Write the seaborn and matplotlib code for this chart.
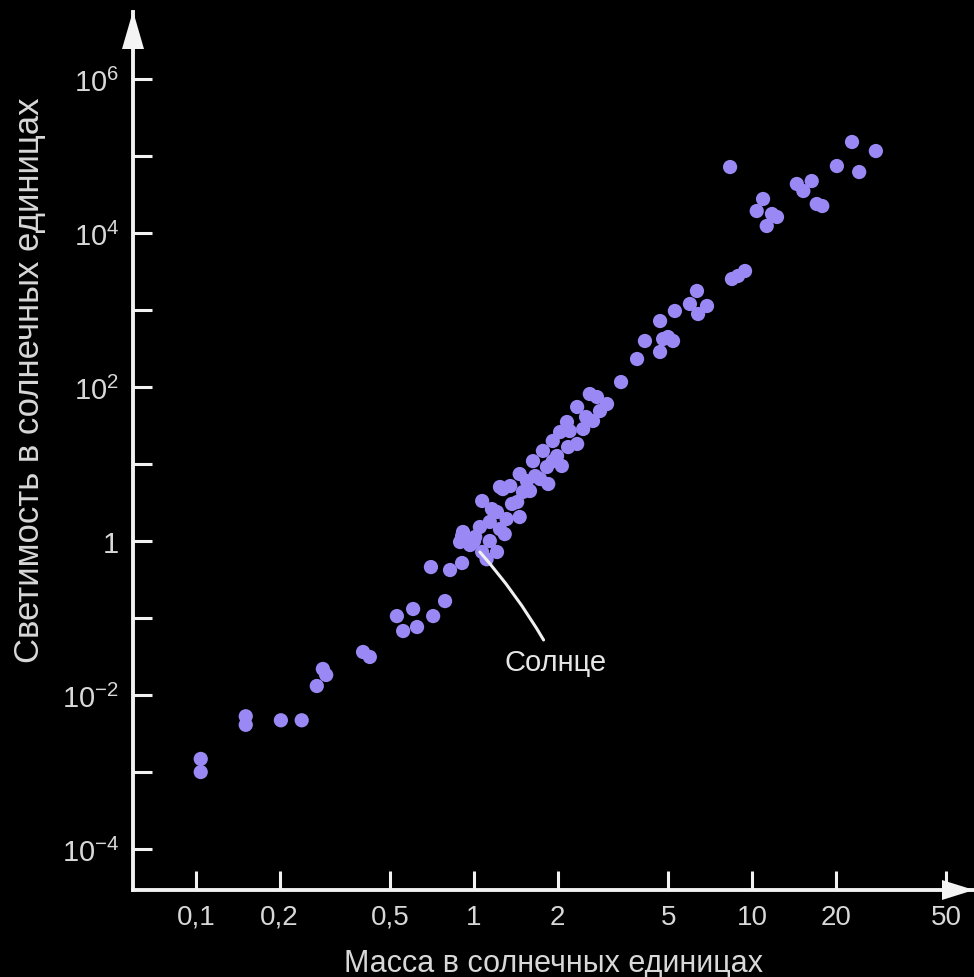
import matplotlib
matplotlib.use("Agg")
import numpy as np
import pandas as pd
import seaborn as sns
import matplotlib.pyplot as plt
from matplotlib import font_manager
from matplotlib.patches import Polygon
from matplotlib.transforms import IdentityTransform
from matplotlib.ticker import FixedLocator, FixedFormatter, NullLocator

# Mass (solar units) of each star
mass = [
    0.104, 0.104, 0.151, 0.151, 0.202, 0.240, 0.286, 0.294, 0.272, 0.399,
    0.422, 0.528, 0.604, 0.556, 0.624, 0.713, 0.787, 0.700, 0.820, 0.906,
    0.968, 0.906, 0.891, 0.984, 1.07, 1.21, 1.14, 0.913, 1.05, 1.24,
    1.14, 1.21, 1.31, 1.46, 1.07, 1.43, 1.24, 1.50, 1.46, 1.66,
    1.11, 1.00, 1.27, 1.35, 1.59, 1.73, 1.85, 1.63, 1.83, 2.07,
    1.77, 1.99, 2.35, 2.04, 2.16, 2.47, 2.35, 2.68, 2.84, 2.61,
    3.01, 3.38, 1.37, 1.55, 1.92, 2.18, 1.92, 2.53, 2.77, 2.21,
    1.16, 1.29, 1.01, 3.86, 4.12, 4.67, 4.99, 5.20, 4.67, 5.28,
    5.98, 6.40, 6.89, 6.34, 4.79, 8.47, 8.91, 9.44, 8.34, 10.96,
    10.4, 11.8, 12.3, 11.3, 14.5, 16.4, 15.3, 17.1, 17.9, 20.2,
    22.9, 27.9, 24.3,
]

# Luminosity (solar units) of each star
luminosity = [
    1.48e-3, 1.0e-3, 5.3e-3, 4.1e-3, 4.7e-3, 4.7e-3, 0.0218, 0.0182, 0.0131, 0.0362,
    0.0312, 0.106, 0.131, 0.0678, 0.0764, 0.106, 0.166, 0.459, 0.420, 0.518,
    0.887, 1.16, 0.97, 0.97, 0.72, 0.72, 1.0, 1.31, 1.52, 1.43,
    1.77, 2.38, 1.93, 2.05, 3.31, 3.21, 5.03, 4.33, 7.41, 6.98,
    0.58, 1.0, 4.73, 5.18, 4.46, 6.38, 5.50, 10.9, 9.14, 9.42,
    14.8, 12.7, 18.2, 26.0, 35.1, 28.5, 55.0, 36.2, 48.8, 81.1,
    60.1, 116.0, 3.03, 6.01, 10.9, 16.6, 19.9, 40.8, 74.1, 26.8,
    2.60, 1.23, 1.13, 231.0, 396.0, 285.0, 446.0, 396.0, 719.0, 971.0,
    1197.0, 887.0, 1127.0, 1766.0, 420.0, 2527.0, 2767.0, 3210.0, 71900.0, 27650.0,
    19300.0, 17650.0, 16140.0, 12330.0, 43300.0, 47300.0, 35100.0, 23800.0, 22400.0, 74100.0,
    152000.0, 116000.0, 61900.0,
]

x_ticks = [0.1, 0.2, 0.5, 1, 2, 5, 10, 20, 50]
x_tick_labels = ["0,1", "0,2", "0,5", "1", "2", "5", "10", "20", "50"]
y_ticks = [1e-4, 1e-3, 1e-2, 1e-1, 1, 1e1, 1e2, 1e3, 1e4, 1e5, 1e6]
y_tick_labels = [r"$10^{-4}$", "", r"$10^{-2}$", "", "1", "", r"$10^{2}$", "",
                 r"$10^{4}$", "", r"$10^{6}$"]

x_label = "Масса в солнечных единицах"
y_label = "Светимость в солнечных единицах"
sun_label = "Солнце"

df = pd.DataFrame({"mass": mass, "luminosity": luminosity})

sns.set_theme(style="white", rc={
    "figure.facecolor": "black",
    "axes.facecolor": "black",
    "savefig.facecolor": "black",
    "xtick.bottom": True,
    "ytick.left": True,
})
installed = {f.name for f in font_manager.fontManager.ttflist}
family = "Liberation Sans Narrow" if "Liberation Sans Narrow" in installed else "Liberation Sans"
plt.rcParams["font.family"] = [family, "DejaVu Sans"]
plt.rcParams["mathtext.fontset"] = "custom"
plt.rcParams["mathtext.rm"] = family
plt.rcParams["mathtext.it"] = family
plt.rcParams["mathtext.bf"] = family

W, H = 974, 978
fig = plt.figure(figsize=(W / 100, H / 100), dpi=100)
fig.patch.set_facecolor("black")

# plot frame in pixels: left, right, bottom, top
px_left, px_right, px_bottom, px_top = 133, 973, 891, 13
ax = fig.add_axes([px_left / W, (H - px_bottom) / H,
                   (px_right - px_left) / W, (px_bottom - px_top) / H])
ax.set_facecolor("black")

sns.scatterplot(data=df, x="mass", y="luminosity", ax=ax,
                color="#9a88f4", s=105, edgecolor="none", linewidth=0,
                zorder=3, legend=False)

ax.set_xscale("log")
ax.set_yscale("log")
ax.set_xlim(10 ** -1.2266, 10 ** 1.795)
ax.set_ylim(10 ** -4.532, 10 ** 6.870)

ax.xaxis.set_major_locator(FixedLocator(x_ticks))
ax.xaxis.set_major_formatter(FixedFormatter(x_tick_labels))
ax.yaxis.set_major_locator(FixedLocator(y_ticks))
ax.yaxis.set_major_formatter(FixedFormatter(y_tick_labels))
ax.xaxis.set_minor_locator(NullLocator())
ax.yaxis.set_minor_locator(NullLocator())

for side in ("top", "right"):
    ax.spines[side].set_visible(False)
for side in ("left", "bottom"):
    ax.spines[side].set_color("#f2f2f2")
    ax.spines[side].set_linewidth(2.8)

ax.tick_params(axis="both", which="major", direction="in", length=14,
               width=2.2, color="#f2f2f2", labelcolor="#d8d8d8",
               bottom=True, left=True)
ax.tick_params(axis="x", labelsize=20, pad=10)
ax.tick_params(axis="y", labelsize=21, pad=10)
ax.set_xlabel("")
ax.set_ylabel("")
ax.grid(False)

# Arrow heads at the ends of both axes (pixel coordinates)
def tri(points):
    return Polygon([(x, H - y) for x, y in points], closed=True,
                   transform=IdentityTransform(), facecolor="#f4f4f4",
                   edgecolor="none", zorder=5)

fig.add_artist(tri([(122, 50), (144, 50), (133, 12)]))
fig.add_artist(tri([(942, 881), (942, 901), (974, 891)]))

# Axis titles
fig.text(553 / W, (H - 964) / H, x_label, color="#d8d8d8", fontsize=22,
         ha="center", va="center")
fig.text(30 / W, (H - 380) / H, y_label, color="#d8d8d8", fontsize=25,
         ha="center", va="center", rotation=90)

# Pointer to the Sun
ax.annotate(sun_label, xy=(1.05, 0.72), xytext=(1.97, 0.0268),
            textcoords="data", color="#e6e6e6", fontsize=21,
            ha="center", va="center",
            arrowprops=dict(arrowstyle="-", color="#f0f0f0", lw=2.2,
                            connectionstyle="arc3,rad=0.06",
                            shrinkA=4, shrinkB=0),
            zorder=4)

fig.savefig("out.png", dpi=100, facecolor="black")
